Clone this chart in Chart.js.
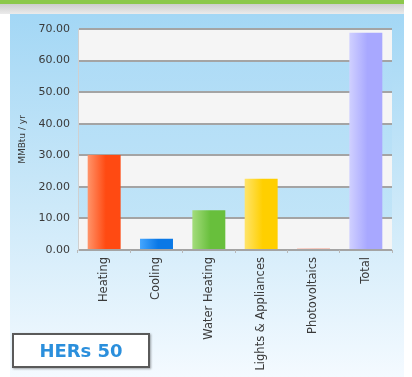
<!DOCTYPE html>
<html>
<head>
<meta charset="utf-8">
<script src="https://cdn.jsdelivr.net/npm/chart.js@4.4.1/dist/chart.umd.min.js"></script>
<style>
  html, body { margin: 0; padding: 0; background: #fff; }
  body { width: 412px; height: 377px; position: relative; overflow: hidden; }
  .topbar { position: absolute; left: 0; top: 0; width: 404px; height: 4px; background: #8cc84b; }
  .shade { position: absolute; left: 0; top: 4px; width: 404px; height: 10px;
           background: linear-gradient(#cdcdcd, #ebebeb); }
  .panel { position: absolute; left: 10px; top: 14px; width: 394px; height: 363px;
           background: linear-gradient(#a3d7f5 0%, #c6e6f8 45%, #f4faff 100%); }
  .chartbox { position: absolute; left: 0; top: 0; width: 394px; height: 363px; }
  .hers { position: absolute; left: 2px; top: 319px; width: 134px; height: 31px;
          border: 2px solid #5a5a5a; background: #fff; box-shadow: 1px 1px 2px rgba(0,0,0,0.35);
          font: bold 18px "DejaVu Sans", sans-serif; color: #2b8fdc;
          text-align: center; line-height: 31px; }
</style>
</head>
<body>
<div class="topbar"></div>
<div class="shade"></div>
<div class="panel">
  <div class="chartbox"><canvas id="graficoEnergia"></canvas></div>
  <div class="hers">HERs 50</div>
</div>
<script>
const categorias = ['Heating', 'Cooling', 'Water Heating', 'Lights & Appliances', 'Photovoltaics', 'Total'];
const consumo = [30.1, 3.6, 12.6, 22.6, 0.5, 68.8];
const coresClaras = ['#ff946a', '#45a6ff', '#a4dc7c', '#ffe46a', '#fbb4a4', '#d0d0ff'];
const coresEscuras = ['#ff4a12', '#0a78e6', '#68bf3c', '#ffcf00', '#f49a86', '#a8a8ff'];
const ticksY = [0, 10, 20, 30, 40, 50, 60, 70];

const larguraBarra = 0.63;

// faixas alternadas no fundo do grafico (clara / azul)
const faixas = {
    id: 'faixas',
    beforeDraw(chart) {
        const { ctx, chartArea } = chart;
        const sy = chart.scales.y;
        const azul = ctx.createLinearGradient(0, chartArea.top, 0, chartArea.bottom);
        azul.addColorStop(0, '#abdaf6');
        azul.addColorStop(1, '#c4e6f8');
        ctx.save();
        for (let i = 0; i < ticksY.length - 1; i++) {
            const yBaixo = sy.getPixelForValue(ticksY[i]);
            const yAlto = sy.getPixelForValue(ticksY[i + 1]);
            ctx.fillStyle = (i % 2 === 0) ? '#f5f5f5' : azul;
            ctx.fillRect(chartArea.left, yAlto, chartArea.width, yBaixo - yAlto);
        }
        ctx.restore();
    }
};

function gradienteBarra(context) {
    const chart = context.chart;
    const i = context.dataIndex;
    if (!chart.chartArea || !chart.scales.x) return coresEscuras[i];
    const sx = chart.scales.x;
    const centro = sx.getPixelForValue(i);
    const meia = (chart.chartArea.width / categorias.length) * larguraBarra / 2;
    const g = chart.ctx.createLinearGradient(centro - meia, 0, centro + meia, 0);
    g.addColorStop(0, coresClaras[i]);
    g.addColorStop(0.55, coresEscuras[i]);
    g.addColorStop(1, coresEscuras[i]);
    return g;
}

const grafico = document.getElementById('graficoEnergia');

new Chart(grafico, {
    type: 'bar',
    data: {
        labels: categorias,
        datasets: [{
            label: 'MMBtu / yr',
            data: consumo,
            backgroundColor: gradienteBarra,
            borderWidth: 0,
            barPercentage: larguraBarra,
            categoryPercentage: 1
        }]
    },
    options: {
        responsive: true,
        maintainAspectRatio: false,
        animation: false,
        layout: {
            padding: { top: 15, right: 12, left: 0, bottom: 0 }
        },
        plugins: {
            legend: { display: false },
            tooltip: { enabled: false }
        },
        scales: {
            y: {
                min: 0,
                max: 70,
                afterFit(scale) { scale.width = 68; },
                afterBuildTicks(scale) { scale.ticks = ticksY.map(v => ({ value: v })); },
                grid: {
                    color: '#a4a4a4',
                    lineWidth: 2,
                    drawTicks: false
                },
                border: { display: true, color: '#d0d0d0', width: 1 },
                ticks: {
                    padding: 8,
                    color: '#3a3a3a',
                    font: { family: 'DejaVu Sans', size: 11 },
                    callback: v => v.toFixed(2)
                },
                title: {
                    display: true,
                    text: 'MMBtu / yr',
                    color: '#3a3a3a',
                    font: { family: 'DejaVu Sans', size: 9 },
                    padding: { top: 7, bottom: 0 }
                }
            },
            x: {
                afterFit(scale) { scale.height = 127; },
                grid: {
                    display: true,
                    drawOnChartArea: false,
                    offset: true,
                    tickLength: 3,
                    color: '#b8b8b8'
                },
                border: { display: false },
                ticks: {
                    padding: 4,
                    color: '#3a3a3a',
                    minRotation: 90,
                    maxRotation: 90,
                    autoSkip: false,
                    font: { family: 'DejaVu Sans', size: 11.5 }
                }
            }
        }
    },
    plugins: [faixas]
});
</script>
</body>
</html>
